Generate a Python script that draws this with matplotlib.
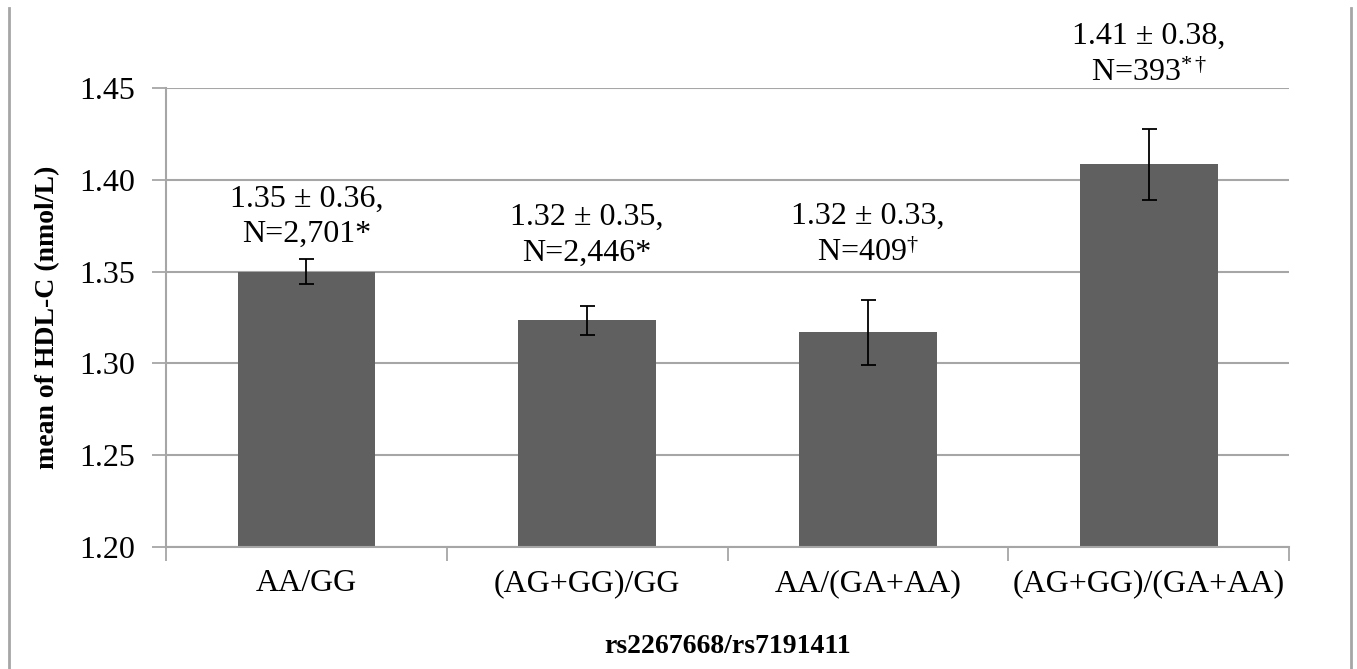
import numpy as np
import matplotlib
matplotlib.use("Agg")
import matplotlib.pyplot as plt
from matplotlib.lines import Line2D

plt.rcParams["font.family"] = ["Liberation Serif", "DejaVu Serif"]
plt.rcParams["mathtext.fontset"] = "custom"
plt.rcParams["mathtext.rm"] = "Liberation Serif"
plt.rcParams["mathtext.it"] = "Liberation Serif:italic"
plt.rcParams["mathtext.bf"] = "Liberation Serif:bold"

# data
groups = ["AA/GG", "(AG+GG)/GG", "AA/(GA+AA)", "(AG+GG)/(GA+AA)"]
means = [1.350, 1.3235, 1.317, 1.4085]
errors = [0.0066, 0.0079, 0.0177, 0.0194]
labels = [
    "1.35 ± 0.36,\nN=2,701*",
    "1.32 ± 0.35,\nN=2,446*",
    "1.32 ± 0.33,\nN=409$^{\\dagger}$",
    "1.41 ± 0.38,\nN=393$^{*\\dagger}$",
]
# baseline of each annotation (data units)
label_y = [1.366, 1.3558, 1.3558, 1.4538]
yticks = [1.20, 1.25, 1.30, 1.35, 1.40, 1.45]

grey = "#a6a6a6"
bar_color = "#606060"

fig = plt.figure(figsize=(13.57, 6.69), dpi=100)
ax = fig.add_axes([0.1223, 0.1824, 0.8277, 0.6861])

x = np.arange(len(groups))
ax.bar(x, means, width=0.49, color=bar_color, zorder=2)
ax.errorbar(x, means, yerr=errors, fmt="none", ecolor="black",
            elinewidth=1.3, capsize=5.4, capthick=1.3, zorder=3)

for xi, txt, yi in zip(x, labels, label_y):
    ax.text(xi, yi, txt, ha="center", va="baseline", fontsize=23,
            linespacing=1.3, clip_on=False, zorder=4)

ax.set_xlim(-0.5, len(groups) - 0.5)
ax.set_ylim(1.20, 1.45)
ax.set_yticks(yticks)
ax.set_yticklabels([f"{v:.2f}" for v in yticks])
ax.set_xticks(x)
ax.set_xticklabels(groups)
ax.set_xticks(np.arange(len(groups) + 1) - 0.5, minor=True)

ax.tick_params(axis="y", direction="out", length=10, width=1.3, color=grey,
               labelsize=23, pad=12)
ax.tick_params(axis="x", which="major", length=0, labelsize=23, pad=16)
ax.tick_params(axis="x", which="minor", direction="out", length=10,
               width=1.3, color=grey)

ax.yaxis.grid(True, color=grey, linewidth=1.5, zorder=0)
ax.set_axisbelow(True)
for side in ["top", "right"]:
    ax.spines[side].set_visible(False)
for side in ["left", "bottom"]:
    ax.spines[side].set_color(grey)
    ax.spines[side].set_linewidth(1.5)

ax.set_ylabel("mean of HDL-C (nmol/L)", fontsize=20, fontweight="bold",
              labelpad=14)
ax.set_xlabel("rs2267668/rs7191411", fontsize=20, fontweight="bold",
              labelpad=26)

# outer frame lines of the original figure
fig.add_artist(Line2D([9 / 1357, 9 / 1357], [0, 1 - 8 / 669],
                      color=grey, linewidth=2))
fig.add_artist(Line2D([1351 / 1357, 1351 / 1357], [0, 1 - 8 / 669],
                      color=grey, linewidth=2))

fig.savefig("out.png", dpi=100)
